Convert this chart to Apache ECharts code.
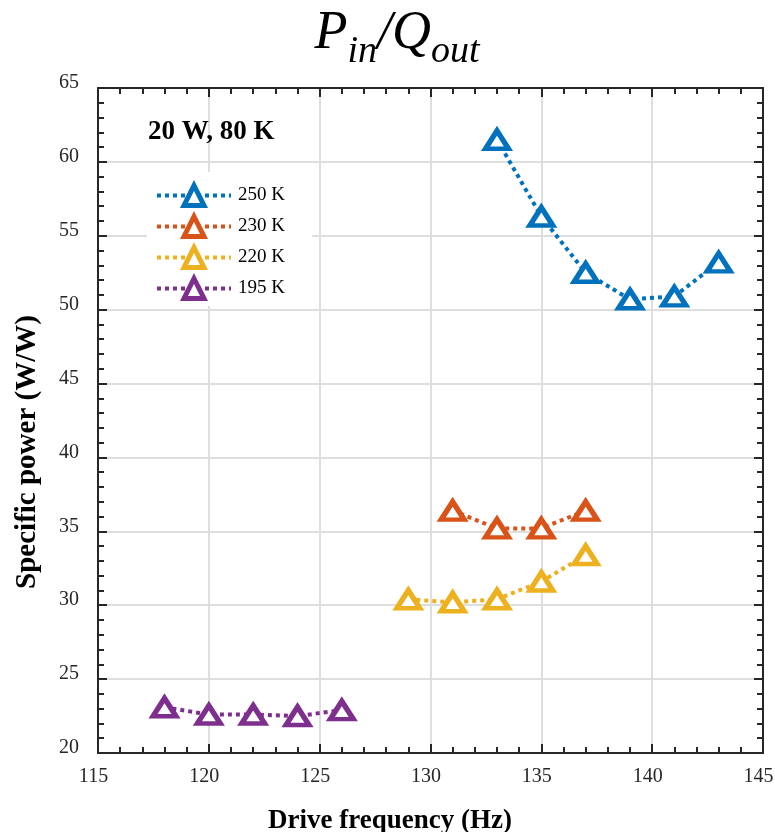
<!DOCTYPE html>
<html><head><meta charset="utf-8">
<script src="https://cdn.jsdelivr.net/npm/echarts@6/dist/echarts.min.js"></script>
<style>html,body{margin:0;padding:0;background:#fff}#c{width:775px;height:832px}</style>
</head><body><div id="c"></div>
<script>
const seriesNames = ['250 K', '230 K', '220 K', '195 K'];
const seriesColors = ['#0072BD', '#D95319', '#EDB120', '#7E2F8E'];
const freq250 = [133, 135, 137, 139, 141, 143];
const sp250 = [61.5, 56.3, 52.5, 50.7, 50.9, 53.2];
const freq230 = [131, 133, 135, 137];
const sp230 = [36.4, 35.2, 35.2, 36.4];
const freq220 = [129, 131, 133, 135, 137];
const sp220 = [30.4, 30.2, 30.4, 31.6, 33.4];
const freq195 = [118, 120, 122, 124, 126];
const sp195 = [23.1, 22.6, 22.6, 22.5, 22.9];
const xRange = [115, 145];
const yRange = [20, 65];
const tickStep = 5;
const annotationText = '20 W, 80 K';
const xName = 'Drive frequency (Hz)';
const yName = 'Specific power (W/W)';
const titleParts = [['P', false], ['in', true], ['/Q', false], ['out', true]];

const FONT = 'Liberation Serif';
const AX = '#262626';

const allFreq = [freq250, freq230, freq220, freq195];
const allSp = [sp250, sp230, sp220, sp195];

const chart = echarts.init(document.getElementById('c'), null, {renderer: 'canvas'});

function baseAxis(extra) {
  return Object.assign({
    type: 'value',
    interval: tickStep,
    axisLine: {show: true, onZero: false, lineStyle: {color: AX, width: 2}},
    axisTick: {show: true, inside: true, length: 9, lineStyle: {color: AX, width: 2}},
    minorTick: {show: true, splitNumber: 5, length: 6, lineStyle: {color: AX, width: 2}},
    splitLine: {show: false},
    axisLabel: {show: false}
  }, extra);
}

const series = seriesNames.map((name, i) => ({
  name: name,
  type: 'line',
  data: allFreq[i].map((f, j) => [f, allSp[i][j]]),
  symbol: 'triangle',
  symbolSize: [23, 18],
  showSymbol: true,
  lineStyle: {color: seriesColors[i], width: 4, type: [4, 4], cap: 'butt'},
  itemStyle: {color: '#fff', borderColor: seriesColors[i], borderWidth: 5},
  z: 3
}));

// title pieces (math-style P_in / Q_out), measured so they sit side by side
const BIG = 54, SUB = 38, TITLE_CX = 397, BASE_Y = 52, SUB_DROP = 13;
const mctx = document.createElement('canvas').getContext('2d');
function measure(t, size) { mctx.font = 'italic ' + size + 'px "Liberation Serif"'; return mctx.measureText(t).width; }
const widths = titleParts.map(p => measure(p[0], p[1] ? SUB : BIG));
const totalW = widths.reduce((a, b) => a + b, 0);
let cx = TITLE_CX - totalW / 2;
const titleGraphics = titleParts.map((p, i) => {
  const size = p[1] ? SUB : BIG;
  const baseline = BASE_Y + (p[1] ? SUB_DROP : 0);
  const g = {
    type: 'text', x: cx, y: baseline - 0.34 * size, z: 10,
    style: {text: p[0], fontFamily: FONT, fontStyle: 'italic', fontSize: size, fill: '#000', align: 'left', verticalAlign: 'middle'}
  };
  cx += widths[i];
  return g;
});

const option = {
  animation: false,
  backgroundColor: '#fff',
  grid: {left: 98, right: 12, top: 88, bottom: 79, containLabel: false, outerBoundsMode: 'none'},
  xAxis: [
    baseAxis({
      min: xRange[0], max: xRange[1], position: 'bottom',
      splitLine: {show: true, lineStyle: {color: '#dedede', width: 2}},
      axisLabel: {show: true, margin: 14, fontFamily: FONT, fontSize: 20, color: AX, padding: [0, 9, 0, 0]}
    }),
    baseAxis({min: xRange[0], max: xRange[1], position: 'top'})
  ],
  yAxis: [
    baseAxis({
      min: yRange[0], max: yRange[1], position: 'left',
      splitLine: {show: true, lineStyle: {color: '#dedede', width: 2}},
      axisLabel: {show: true, margin: 19, fontFamily: FONT, fontSize: 20, color: AX, verticalAlign: 'bottom', lineHeight: 10}
    }),
    baseAxis({min: yRange[0], max: yRange[1], position: 'right'})
  ],
  legend: {
    data: seriesNames,
    orient: 'vertical',
    left: 147, top: 172,
    padding: [11, 27, 5, 8],
    backgroundColor: '#fff',
    borderWidth: 0,
    itemWidth: 74, itemHeight: 25, itemGap: 6,
    textStyle: {fontFamily: FONT, fontSize: 19, color: '#000', padding: [0, 0, 0, 2]},
    itemStyle: {borderWidth: 5},
    lineStyle: {width: 4},
    z: 5
  },
  graphic: titleGraphics.concat([
    {
      type: 'text', left: 148, top: 119, z: 10,
      style: {text: annotationText, font: 'bold 27px "Liberation Serif"', fill: '#000'}
    },
    {
      type: 'text', x: 390, y: 821, z: 10,
      style: {text: xName, font: 'bold 27px "Liberation Serif"', fill: '#000', align: 'center', verticalAlign: 'middle'}
    },
    {
      type: 'text', x: 28, y: 452, rotation: Math.PI / 2, z: 10,
      style: {text: yName, font: 'bold 29px "Liberation Serif"', fill: '#000', align: 'center', verticalAlign: 'middle'}
    }
  ]),
  series: series
};
chart.setOption(option);
</script>
</body></html>
